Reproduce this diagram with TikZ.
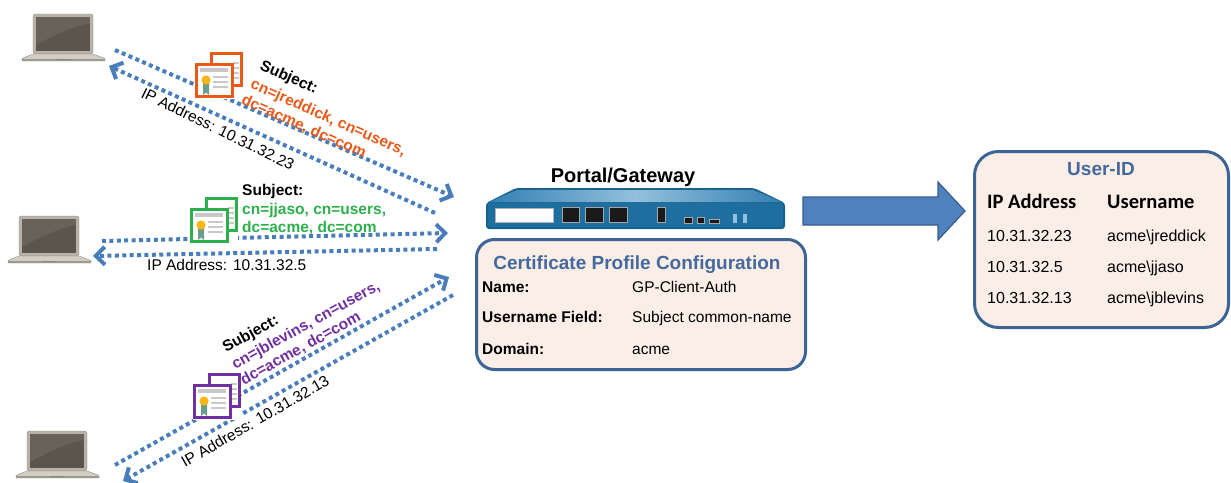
\documentclass[tikz,border=0pt]{standalone}
\usepackage{fontspec}
\setmainfont{Liberation Sans}
\newfontfamily\calib{Carlito}
\usetikzlibrary{arrows.meta}

\definecolor{flowblue}{HTML}{4A7EBB}
\definecolor{certorange}{HTML}{E8591A}
\definecolor{certgreen}{HTML}{2DB04B}
\definecolor{certpurple}{HTML}{7030A0}
\definecolor{titleblue}{HTML}{44699E}
\definecolor{boxline}{HTML}{3D6496}
\definecolor{boxfill}{HTML}{FBEEE6}
\definecolor{arrowfill}{HTML}{4F81BD}
\definecolor{arrowline}{HTML}{385D8A}
\definecolor{lapframe}{HTML}{B8B3A9}
\definecolor{lapedge}{HTML}{8C877D}
\definecolor{lapscreen}{HTML}{5B564D}
\definecolor{lapbase}{HTML}{D2CEC4}
\definecolor{fwdark}{HTML}{18628F}
\definecolor{fwfront}{HTML}{1F6EA0}
\definecolor{fwmid}{HTML}{3380B3}
\definecolor{fwlight}{HTML}{93C0DC}
\definecolor{seal}{HTML}{F7B718}
\definecolor{ribbon}{HTML}{6E9C8C}
\definecolor{docline}{HTML}{C8C8C8}

\tikzset{
  laptop/.pic={
    \draw[draw=lapedge, fill=lapframe, rounded corners=2.5pt] (11,0) rectangle (71,40);
    \fill[lapscreen] (14,3) rectangle (68,37);
    \fill[white, opacity=0.08] (14,3) -- (68,3) -- (68,9) .. controls (48,13) and (30,22) .. (14,31) -- cycle;
    \draw[draw=lapedge, fill=lapbase] (11,40) -- (71,40) -- (83,44.5) -- (83,47) -- (0,47) -- (0,44.5) -- cycle;
    \fill[lapedge!85] (0,45) rectangle (83,47);
    \fill[lapedge] (34,44.5) rectangle (49,45.5);
  },
  cert/.pic={
    \fill[white] (0,0) rectangle (48,47);
    \draw[#1, line width=2.8pt, fill=white] (16.5,1.5) rectangle (46.5,33.5);
    \foreach \yy in {10,15,20,25} \fill[docline] (38,\yy) rectangle (44,\yy+1.6);
    \draw[#1, line width=2.8pt, fill=white] (1.5,12.5) rectangle (37.5,44.5);
    \fill[docline] (5,16) rectangle (33,20);
    \foreach \yy in {24,29,34} \fill[docline] (18,\yy) rectangle (33,\yy+1.6);
    \fill[ribbon] (8,30) -- (14,30) -- (14,43) -- (11,40.5) -- (8,43) -- cycle;
    \fill[seal] (11,28) circle (4.6pt);
  }
}

\begin{document}
\begin{tikzpicture}[x=1pt, y=-1pt,
  flow/.style={draw=flowblue, line width=4pt, dash pattern=on 4pt off 3.4pt,
    -{Straight Barb[length=9pt, width=18pt]}},
  lbl/.style={inner sep=0pt, font=\fontsize{15.5}{18}\selectfont},
  subj/.style={lbl, anchor=base west, font=\fontsize{15.5}{18}\selectfont\bfseries},
  infobox/.style={draw=boxline, fill=boxfill, line width=3pt, inner sep=0pt},
  boxtitle/.style={inner sep=0pt, anchor=base, text=titleblue, font=\fontsize{19}{22}\selectfont\bfseries},
  rowkey/.style={lbl, anchor=base west, font=\fontsize{15.5}{18}\selectfont\bfseries},
  rowval/.style={lbl, anchor=base west},
  colhead/.style={inner sep=0pt, anchor=base west, font=\fontsize{20.5}{24}\calib\bfseries},
  cell/.style={inner sep=0pt, anchor=base west, font=\fontsize{16}{19}\selectfont}
]
\useasboundingbox (0,0) rectangle (1231,482);

% clients
\pic (pc1) at (22,14) {laptop};
\pic (pc2) at (8,216) {laptop};
\pic (pc3) at (16,431) {laptop};

% end points of the client / gateway exchanges
\coordinate (r1s) at (115,50);  \coordinate (r1e) at (454,197);
\coordinate (p1s) at (435,213); \coordinate (p1e) at (109,66);
\coordinate (r2s) at (102,241); \coordinate (r2e) at (448,233);
\coordinate (p2s) at (437,249); \coordinate (p2e) at (93,256);
\coordinate (r3s) at (115,465); \coordinate (r3e) at (449,277);
\coordinate (p3s) at (453,295); \coordinate (p3e) at (123,481);

\draw[flow] (r1s) -- (r1e);
\draw[flow] (p1s) -- (p1e);
\draw[flow] (r2s) -- (r2e);
\draw[flow] (p2s) -- (p2e);
\draw[flow] (r3s) -- (r3e);
\draw[flow] (p3s) -- (p3e);

% client certificates
\pic (cert1) at (195,52) {cert=certorange};
\pic (cert2) at (190,197) {cert=certgreen};
\pic (cert3) at (193,373) {cert=certpurple};

% certificate subjects
\begin{scope}[shift={(259,69)}, rotate=-24, transform shape]
  \node[subj] (s1h) at (0,0) {Subject:};
  \node[subj, text=certorange] (s1a) at (-1,21) {cn=jreddick, cn=users,};
  \node[subj, text=certorange] (s1b) at (-3,39) {dc=acme, dc=com};
\end{scope}
\node[subj] (s2h) at (242,195) {Subject:};
\node[subj, text=certgreen] (s2a) at (242,214) {cn=jjaso, cn=users,};
\node[subj, text=certgreen] (s2b) at (242,232) {dc=acme, dc=com};
\begin{scope}[shift={(226,353)}, rotate=29, transform shape]
  \node[subj] (s3h) at (0,0) {Subject:};
  \node[subj, text=certpurple] (s3a) at (0,19) {cn=jblevins, cn=users,};
  \node[subj, text=certpurple] (s3b) at (0,37) {dc=acme, dc=com};
\end{scope}

% client addresses
\node[lbl, anchor=base west, rotate=-26] (ip1) at (140,97) {IP Address: 10.31.32.23};
\node[lbl, anchor=base west] (ip2) at (147,270) {IP Address: 10.31.32.5};
\node[lbl, anchor=base west, rotate=30] (ip3) at (185,468) {IP Address: 10.31.32.13};

% portal / gateway appliance
\node[inner sep=0pt, anchor=base, font=\fontsize{20}{24}\selectfont\bfseries] (gwname) at (623,182) {Portal/Gateway};
\fill[fwdark, rounded corners=3pt] (486,203) -- (516,188) -- (754,188) -- (785,203) -- (785,229) -- (486,229) -- cycle;
\shade[left color=fwmid, right color=fwmid, middle color=fwlight] (489,202) -- (517,190) -- (753,190) -- (782,202) -- cycle;
\fill[fwfront, rounded corners=2pt] (488,203) rectangle (783,227);
\draw[fill=white, draw=black!30, line width=0.4pt] (495,208) rectangle (553,222);
\foreach \xa/\xb in {562/579, 585/603, 609/627}
  \draw[fill=black!90, draw=black!35, line width=0.5pt] (\xa,207) rectangle (\xb,222);
\draw[fill=black!90, draw=black!35, line width=0.5pt] (657,207) rectangle (665,222);
\draw[fill=black!90, draw=black!35, line width=0.4pt] (684,217) rectangle (692,223);
\draw[fill=black!90, draw=black!35, line width=0.4pt] (697,217) rectangle (704,223);
\draw[fill=black!90, draw=black!35, line width=0.4pt] (709,219.5) rectangle (719,223);
\fill[fwlight] (733,214) rectangle (737,223);
\fill[fwlight] (743,214) rectangle (746.5,223);

% certificate profile
\node[infobox, rounded corners=18pt, minimum width=329pt, minimum height=130pt] (profile) at (641,304.5) {};
\node[boxtitle] (proftitle) at (637,269) {Certificate Profile Configuration};
\node[rowkey] (k1) at (482,292) {Name:};
\node[rowkey] (k2) at (482,322) {Username Field:};
\node[rowkey] (k3) at (482,354) {Domain:};
\node[rowval] (v1) at (632,292) {GP-Client-Auth};
\node[rowval] (v2) at (632,322) {Subject common-name};
\node[rowval] (v3) at (632,354) {acme};

% mapping to User-ID
\draw[fill=arrowfill, draw=arrowline, line width=1.2pt] (803,197) -- (938,197) -- (938,182) -- (965,211) -- (938,240) -- (938,225) -- (803,225) -- cycle;

\node[infobox, rounded corners=24pt, minimum width=254pt, minimum height=176pt] (userid) at (1101.5,239.5) {};
\node[boxtitle] (uidtitle) at (1101,175) {User-ID};
\node[colhead] (hip) at (987,208) {IP Address};
\node[colhead] (hun) at (1107,208) {Username};
\node[cell] (a1) at (987,241) {10.31.32.23};
\node[cell] (a2) at (987,272) {10.31.32.5};
\node[cell] (a3) at (987,303) {10.31.32.13};
\node[cell] (u1) at (1107,241) {acme\textbackslash jreddick};
\node[cell] (u2) at (1107,272) {acme\textbackslash jjaso};
\node[cell] (u3) at (1107,303) {acme\textbackslash jblevins};
\end{tikzpicture}
\end{document}
